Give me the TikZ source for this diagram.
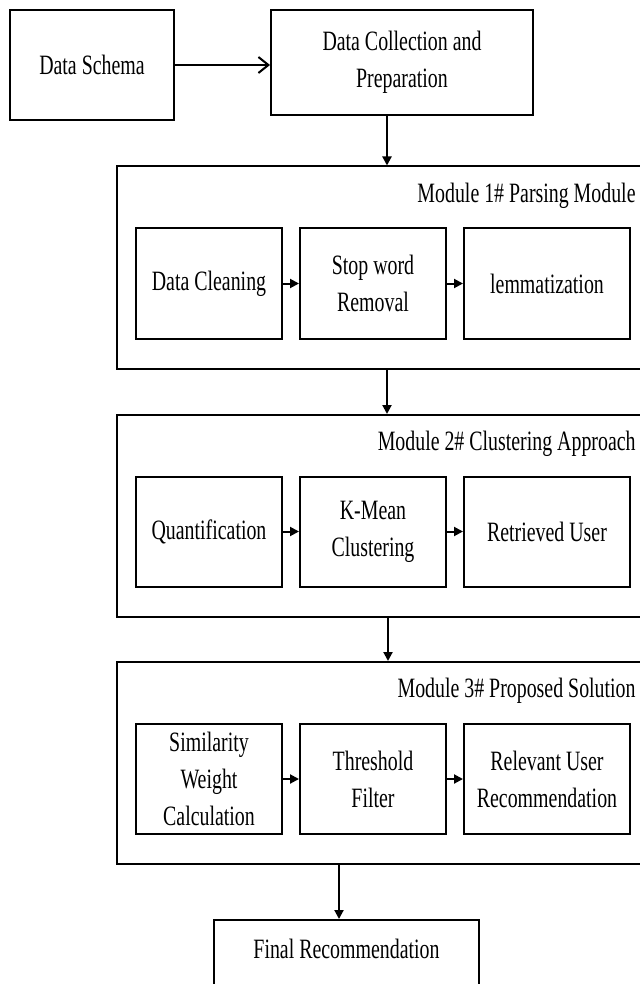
\documentclass[tikz,border=0pt]{standalone}
\usepackage{fontspec}
\setmainfont[FakeStretch=0.71]{Liberation Serif}
\usetikzlibrary{positioning, arrows.meta}
\tikzset{
  font=\fontsize{14}{18.5}\selectfont,
  % Set arrowhead
  >={Triangle[length=4.5pt, width=4.5pt]},
  % General box
  box/.style={draw, line width=1pt, shape=rectangle, inner sep=0pt,
    align=center},
  % Top level box
  tbox/.style={box},
  % Module frame
  mframe/.style={box, minimum width=264pt, minimum height=101pt},
  % Module title
  mtitle/.style={anchor=east, inner sep=0pt},
  % Step inside a module
  sbox/.style={box, minimum width=73pt, minimum height=55pt},
  wide/.style={minimum width=83pt},
  % Arrows
  q->/.style={->, line width=1pt},
  q-to/.style={-{Straight Barb[length=5pt, width=8pt]}, line width=1pt},
}

\begin{document}
\begin{tikzpicture}[x=1pt, y=-1pt]
  \useasboundingbox (0,0) rectangle (320,492);

  \node[tbox, minimum width=82pt, minimum height=55pt] (schema) at (46,32.5)
  {Data Schema};
  \node[tbox, minimum width=131pt, minimum height=52.5pt] (collect)
  at (201,31.25) {Data Collection and\\Preparation};

  % Module frames
  \node[mframe] (m1) at (190.5,133.75) {};
  \node[mframe] (m2) at (190.5,258) {};
  \node[mframe] (m3) at (190.5,381.5) {};

  \node[mtitle] (t1) at ([xshift=-5pt,yshift=-15pt]m1.north east)
  {Module 1\# Parsing Module};
  \node[mtitle] (t2) at ([xshift=-5pt,yshift=-15pt]m2.north east)
  {Module 2\# Clustering Approach};
  \node[mtitle] (t3) at ([xshift=-5pt,yshift=-15pt]m3.north east)
  {Module 3\# Proposed Solution};

  % Module 1
  \node[sbox] (clean) at (104.5,141.75) {Data Cleaning};
  \node[sbox, right=8pt of clean] (stop) {Stop word\\Removal};
  \node[sbox, wide, right=8pt of stop] (lemma) {lemmatization};

  % Module 2
  \node[sbox] (quant) at (104.5,265.75) {Quantification};
  \node[sbox, right=8pt of quant] (kmean) {K-Mean\\Clustering};
  \node[sbox, wide, right=8pt of kmean] (user) {Retrieved User};

  % Module 3
  \node[sbox] (simil) at (104.5,389.5) {Similarity\\Weight\\Calculation};
  \node[sbox, right=8pt of simil] (thresh) {Threshold\\Filter};
  \node[sbox, wide, right=8pt of thresh] (relev)
  {Relevant User\\Recommendation};

  \node[box, minimum width=132.5pt, minimum height=50pt,
  label={[anchor=center, yshift=-15pt]north:Final Recommendation}] (final)
  at (173.25,485) {};

  \draw[q-to] (schema.east) -- (schema.east -| collect.west);
  \draw[q->] ([xshift=-7.5pt]collect.south) -- ([xshift=-7.5pt]collect.south |- m1.north);
  \draw[q->] ([xshift=3pt]m1.south) -- ([xshift=3pt]m2.north);
  \draw[q->] ([xshift=3.5pt]m2.south) -- ([xshift=3.5pt]m3.north);
  \draw[q->] ([xshift=-3.75pt]final.north |- m3.south) -- ([xshift=-3.75pt]final.north);

  \draw[q->] (clean) -- (stop);
  \draw[q->] (stop) -- (lemma);
  \draw[q->] (quant) -- (kmean);
  \draw[q->] (kmean) -- (user);
  \draw[q->] (simil) -- (thresh);
  \draw[q->] (thresh) -- (relev);
\end{tikzpicture}
\end{document}
